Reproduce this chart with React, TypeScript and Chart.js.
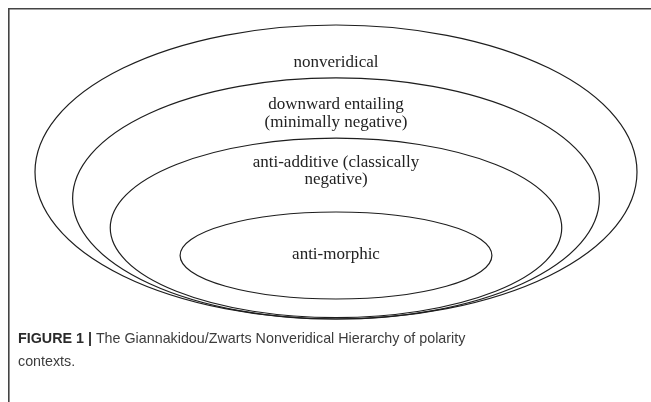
import React, { useEffect, useRef } from "react";
import { Chart, registerables } from "chart.js";

Chart.register(...registerables);

// Nested regions of the hierarchy (outermost first), in diagram units
const regions = ["nonveridical", "downward entailing", "anti-additive", "anti-morphic"];
const centerX = [0, 0, 0, 0];
const centerY = [0.5, 0.41, 0.31, 0.216];
const radiusX = [1, 0.875, 0.75, 0.518];
const radiusY = [0.5, 0.41, 0.305, 0.148];
const labelLines = [
  ["nonveridical"],
  ["downward entailing", "(minimally negative)"],
  ["anti-additive (classically", "negative)"],
  ["anti-morphic"],
];
const labelY = [0.874, 0.699, 0.503, 0.218];
const captionBold = "FIGURE 1 |";
const captionLines = ["The Giannakidou/Zwarts Nonveridical Hierarchy of polarity", "contexts."];

const W = 651;
const H = 402;

const ellipsePlugin = {
  id: "ellipses",
  afterDatasetsDraw(chart: any) {
    const ctx = chart.ctx as CanvasRenderingContext2D;
    const xs = chart.scales.x;
    const ys = chart.scales.y;
    ctx.save();
    // ellipses
    chart.data.datasets.forEach((ds: any, i: number) => {
      const p = ds.data[0];
      const cx = xs.getPixelForValue(p.x);
      const cy = ys.getPixelForValue(p.y);
      const rx = Math.abs(xs.getPixelForValue(p.x + ds.rx) - cx);
      const ry = Math.abs(ys.getPixelForValue(p.y + ds.ry) - cy);
      ctx.beginPath();
      ctx.ellipse(cx, cy, rx, ry, 0, 0, Math.PI * 2);
      ctx.strokeStyle = "#1e1e1e";
      ctx.lineWidth = 1.2;
      ctx.stroke();
    });
    // labels
    ctx.fillStyle = "#222";
    ctx.font = '17px "Liberation Serif", "DejaVu Serif", serif';
    ctx.textAlign = "center";
    ctx.textBaseline = "middle";
    const lh = 17.5;
    labelLines.forEach((lines, i) => {
      const px = xs.getPixelForValue(centerX[i]);
      const py = ys.getPixelForValue(labelY[i]);
      const start = py - ((lines.length - 1) * lh) / 2;
      lines.forEach((t, j) => ctx.fillText(t, px, start + j * lh));
    });
    ctx.restore();
  },
  beforeDraw(chart: any) {
    const ctx = chart.ctx as CanvasRenderingContext2D;
    ctx.save();
    ctx.fillStyle = "#ffffff";
    ctx.fillRect(0, 0, W, H);
    // frame
    ctx.strokeStyle = "#444";
    ctx.lineWidth = 1.6;
    ctx.beginPath();
    ctx.moveTo(8.8, H);
    ctx.lineTo(8.8, 8.8);
    ctx.lineTo(W, 8.8);
    ctx.stroke();
    // caption
    ctx.textAlign = "left";
    ctx.textBaseline = "alphabetic";
    ctx.fillStyle = "#2a2a2a";
    ctx.font = 'bold 14.3px "Liberation Sans", Arial, sans-serif';
    const x0 = 18;
    const b1 = 343;
    ctx.fillText(captionBold, x0, b1);
    const bw = ctx.measureText(captionBold + " ").width;
    ctx.fillStyle = "#3c3c3c";
    ctx.font = '14.3px "Liberation Sans", Arial, sans-serif';
    ctx.fillText(captionLines[0], x0 + bw, b1);
    ctx.fillText(captionLines[1], x0, b1 + 23);
    ctx.restore();
  },
};

export default function App() {
  const ref = useRef<HTMLCanvasElement>(null);
  useEffect(() => {
    if (!ref.current) return;
    const chart = new Chart(ref.current, {
      type: "scatter",
      data: {
        datasets: regions.map((name, i) => ({
          label: name,
          data: [{ x: centerX[i], y: centerY[i] }],
          rx: radiusX[i],
          ry: radiusY[i],
          pointRadius: 0,
          pointHoverRadius: 0,
        })) as any,
      },
      options: {
        animation: false,
        responsive: false,
        events: [],
        layout: { padding: { left: 35, right: 14, top: 25, bottom: 83 } },
        scales: {
          x: { type: "linear", min: -1, max: 1, display: false },
          y: { type: "linear", min: 0, max: 1, display: false },
        },
        plugins: { legend: { display: false }, tooltip: { enabled: false }, title: { display: false } },
      },
      plugins: [ellipsePlugin],
    });
    return () => chart.destroy();
  }, []);
  return (
    <div style={{ position: "fixed", left: 0, top: 0, width: W, height: H, background: "#fff" }}>
      <canvas ref={ref} width={W} height={H} style={{ display: "block", width: W, height: H }} />
    </div>
  );
}
